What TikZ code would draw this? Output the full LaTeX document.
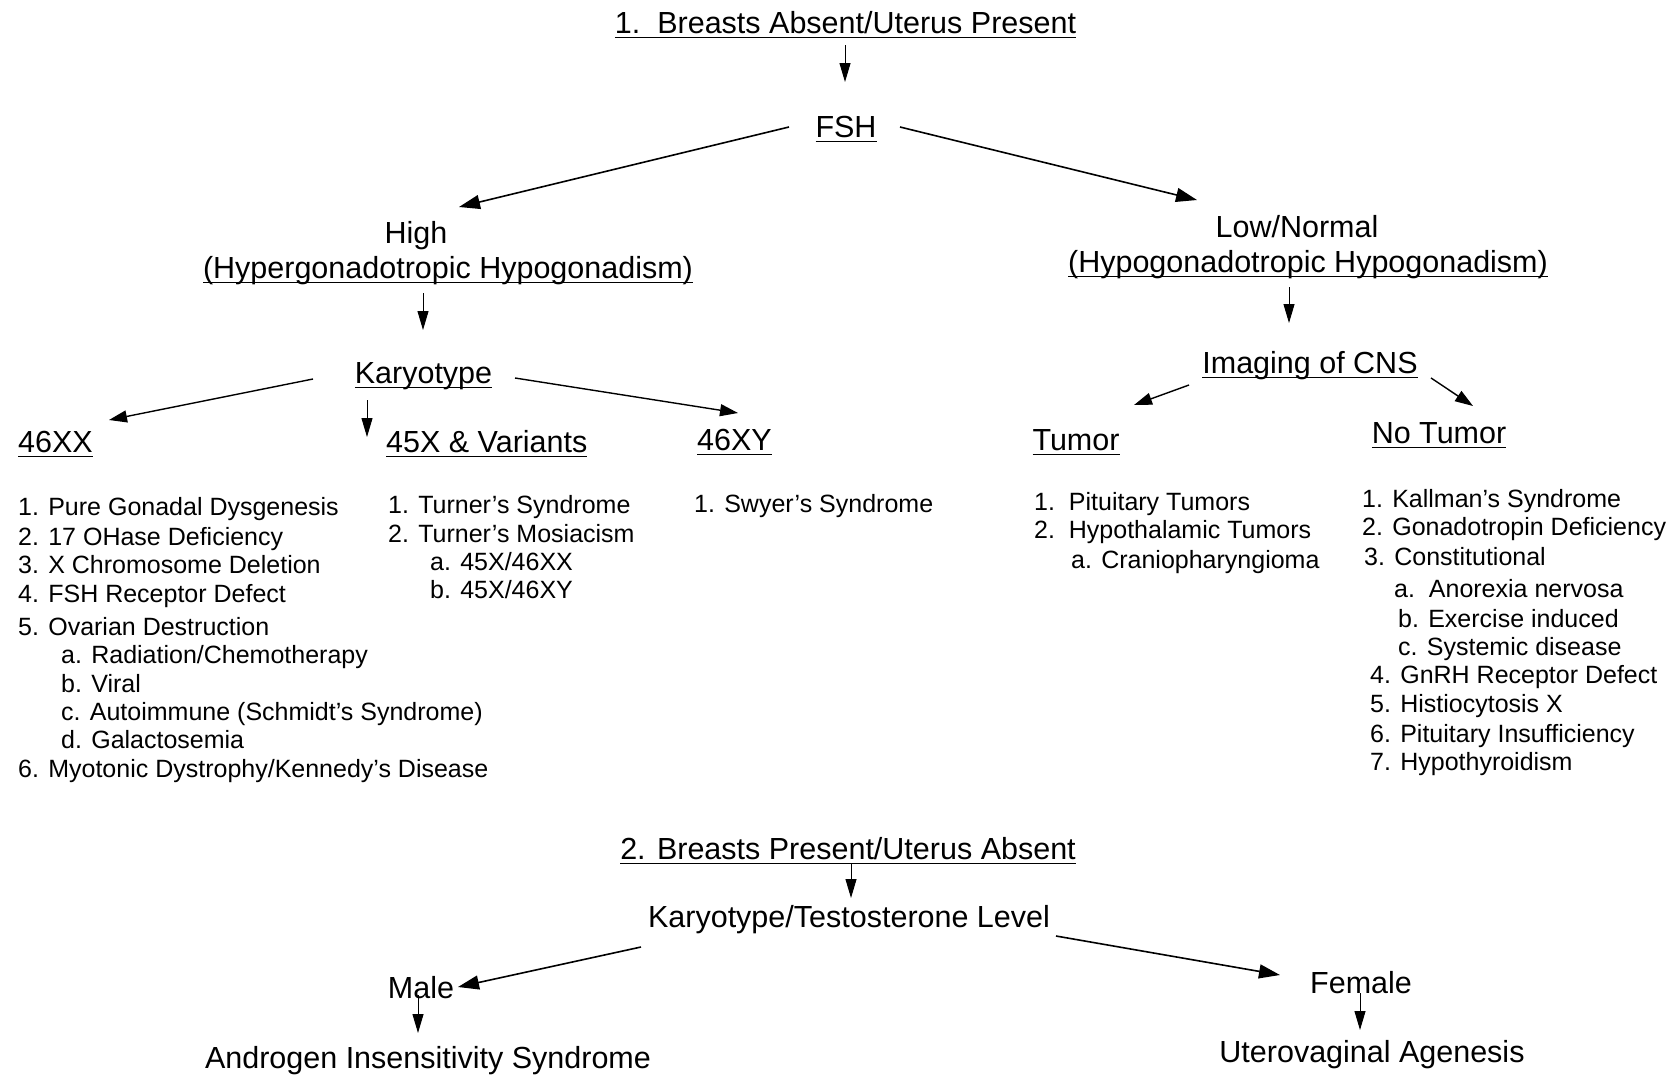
\documentclass[tikz,border=0pt]{standalone}
\usepackage{fontspec}
\setmainfont{Liberation Sans}
\usetikzlibrary{arrows.meta}
\newcommand\ulx[1]{\leavevmode\vtop{\setbox0\hbox{#1}\dp0=0pt\box0\kern3.5pt\hrule height 1.8pt}}
\tikzset{
  head/.style={inner sep=0pt, anchor=base, font=\fontsize{30.5}{36}\selectfont},
  item/.style={inner sep=0pt, anchor=base west, font=\fontsize{25}{30}\selectfont},
  arr/.style={line width=1.4pt, -{Triangle[length=18pt,width=12pt]}},
  arrbig/.style={line width=1.6pt, -{Triangle[length=21pt,width=14pt]}},
  arrv/.style={line width=1pt, -{Triangle[length=19pt,width=11pt]}}
}
\begin{document}
\begin{tikzpicture}[x=1pt,y=-1pt]
\useasboundingbox[fill=white] (0,0) rectangle (1675,1076);
% headings
\node[head] (t1) at (845.5,33) {\ulx{1.\ \ Breasts Absent/Uterus Present}};
\node[head] (fsh) at (846,137) {\ulx{FSH}};
\node[head] (high) at (416,243) {High};
\node[head] (hyper) at (448,278) {\ulx{(Hypergonadotropic Hypogonadism)}};
\node[head] (karyo) at (423.5,383) {\ulx{Karyotype}};
\node[head,anchor=base west] (xx) at (18,452) {\ulx{46XX}};
\node[head,anchor=base west] (xv) at (386,452) {\ulx{45X \& Variants}};
\node[head,anchor=base west] (xy) at (697,450) {\ulx{46XY}};
\node[head] (low) at (1297,237) {Low/Normal};
\node[head] (hypo) at (1308,272) {\ulx{(Hypogonadotropic Hypogonadism)}};
\node[head] (img) at (1310,373) {\ulx{Imaging of CNS}};
\node[head] (tum) at (1076,450) {\ulx{Tumor}};
\node[head] (ntum) at (1439,443) {\ulx{No Tumor}};
% left list
\node[item] (l1) at (18,515) {1. Pure Gonadal Dysgenesis};
\node[item] (l2) at (18,545) {2. 17 OHase Deficiency};
\node[item] (l3) at (18,573) {3. X Chromosome Deletion};
\node[item] (l4) at (18,602) {4. FSH Receptor Defect};
\node[item] (l5) at (18,635) {5. Ovarian Destruction};
\node[item] (l5a) at (61,663) {a. Radiation/Chemotherapy};
\node[item] (l5b) at (61,692) {b. Viral};
\node[item] (l5c) at (61,720) {c. Autoimmune (Schmidt's Syndrome)};
\node[item] (l5d) at (61,748) {d. Galactosemia};
\node[item] (l6) at (18,777) {6. Myotonic Dystrophy/Kennedy's Disease};
% middle list
\node[item] (m1) at (388,513) {1. Turner's Syndrome};
\node[item] (m2) at (388,542) {2. Turner's Mosiacism};
\node[item] (m2a) at (430,570) {a. 45X/46XX};
\node[item] (m2b) at (430,598) {b. 45X/46XY};
\node[item] (s1) at (694,512) {1. Swyer's Syndrome};
% tumor list
\node[item] (t1i) at (1034,510) {1.\ \ Pituitary Tumors};
\node[item] (t2i) at (1034,538) {2.\ \ Hypothalamic Tumors};
\node[item] (t2a) at (1071,568) {a. Craniopharyngioma};
% no tumor list
\node[item] (n1) at (1362,507) {1. Kallman's Syndrome};
\node[item] (n2) at (1362,535) {2. Gonadotropin Deficiency};
\node[item] (n3) at (1364,565) {3. Constitutional};
\node[item] (n3a) at (1394,597) {a.\ \ Anorexia nervosa};
\node[item] (n3b) at (1398,627) {b. Exercise induced};
\node[item] (n3c) at (1398,655) {c. Systemic disease};
\node[item] (n4) at (1370,683) {4. GnRH Receptor Defect};
\node[item] (n5) at (1370,712) {5. Histiocytosis X};
\node[item] (n6) at (1370,742) {6. Pituitary Insufficiency};
\node[item] (n7) at (1370,770) {7. Hypothyroidism};
% bottom part
\node[head] (t2) at (848,859) {\ulx{2. Breasts Present/Uterus Absent}};
\node[head] (kt) at (849,927) {Karyotype/Testosterone Level};
\node[head] (male) at (421,998) {Male};
\node[head] (ais) at (428,1068) {Androgen Insensitivity Syndrome};
\node[head] (fem) at (1361,993) {Female};
\node[head] (uva) at (1372,1062) {Uterovaginal Agenesis};
% connector end points
\coordinate (t1s) at (845,45);   \coordinate (fshn) at (845,82);
\coordinate (fshw) at (789,127); \coordinate (highn) at (459,207);
\coordinate (fshe) at (900,127); \coordinate (lown) at (1197,200);
\coordinate (hypers) at (423,293); \coordinate (karyon) at (423,330);
\coordinate (karyow) at (313,379); \coordinate (xxn) at (109,420);
\coordinate (karyos) at (367,400); \coordinate (xvn) at (367,437);
\coordinate (karyoe) at (515,378); \coordinate (xyn) at (738,413);
\coordinate (hypos) at (1289,287); \coordinate (imgn) at (1289,323);
\coordinate (imgw) at (1189,385); \coordinate (tumn) at (1134,405);
\coordinate (imge) at (1431,378); \coordinate (ntumn) at (1473,406);
\coordinate (t2s) at (851,863);  \coordinate (ktn) at (851,898);
\coordinate (ktw) at (641,947);  \coordinate (malen) at (458,987);
\coordinate (kte) at (1056,936); \coordinate (femn) at (1280,975);
\coordinate (males) at (418,995); \coordinate (aisn) at (418,1033);
\coordinate (fems) at (1360,993); \coordinate (uvan) at (1360,1030);
% connectors
\draw[arrv] (t1s) -- (fshn);
\draw[arrbig] (fshw) -- (highn);
\draw[arrbig] (fshe) -- (lown);
\draw[arrv] (hypers) -- (karyon);
\draw[arr] (karyow) -- (xxn);
\draw[arrv] (karyos) -- (xvn);
\draw[arr] (karyoe) -- (xyn);
\draw[arrv] (hypos) -- (imgn);
\draw[arr] (imgw) -- (tumn);
\draw[arr] (imge) -- (ntumn);
\draw[arrv] (t2s) -- (ktn);
\draw[arrbig] (ktw) -- (malen);
\draw[arrbig] (kte) -- (femn);
\draw[arrv] (males) -- (aisn);
\draw[arrv] (fems) -- (uvan);
\end{tikzpicture}
\end{document}
